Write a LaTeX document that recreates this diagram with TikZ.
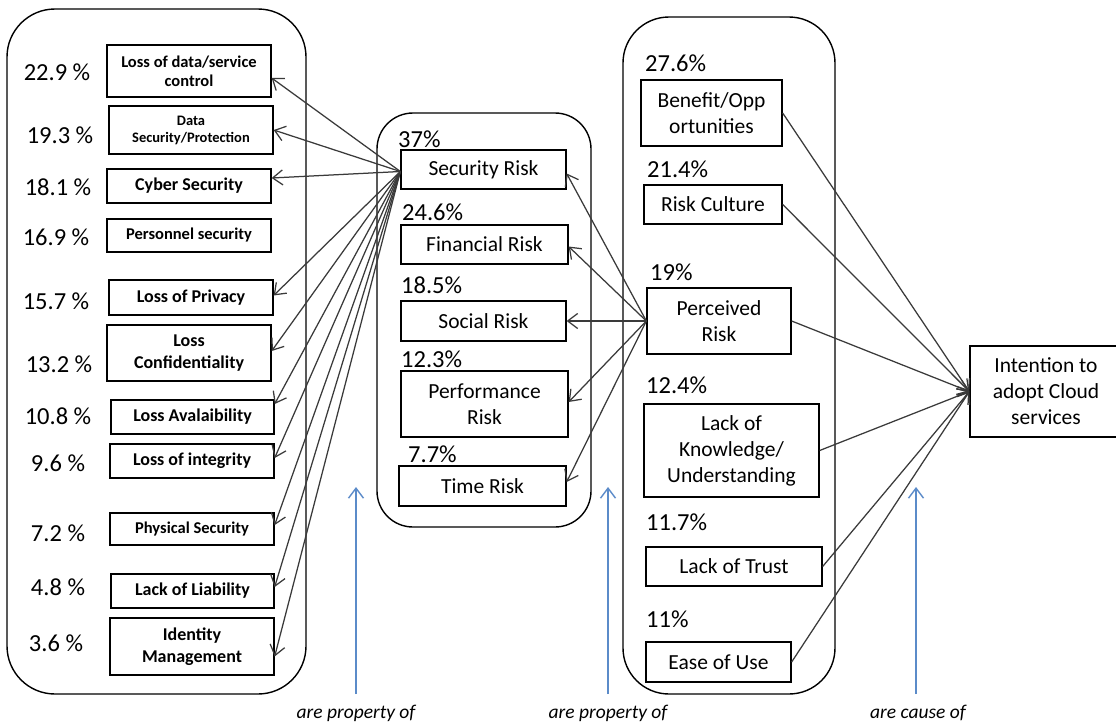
\documentclass[tikz,border=0pt]{standalone}
\usepackage{fontspec}
\setmainfont{Carlito}
\usetikzlibrary{arrows.meta}
\definecolor{conncol}{HTML}{3A3A3A}
\definecolor{bluecol}{HTML}{5B8BC9}
\begin{document}
\begin{tikzpicture}[x=1pt,y=-1pt,
  cont/.style={draw=black,line width=1.4pt,rounded corners=#1},
  lbox/.style={draw=black,line width=1.3pt,inner sep=0pt,align=center,font=\bfseries\fontsize{18}{21.5}\selectfont},
  rbox/.style={draw=black,line width=1.3pt,inner sep=0pt,align=center,font=\fontsize{21.5}{26}\selectfont},
  pct/.style={inner sep=0pt,font=\fontsize{24.5}{28}\selectfont},
  conn/.style={draw=conncol,line width=1.25pt,-{Straight Barb[length=10pt,width=15pt]}},
  bluearr/.style={draw=bluecol,line width=1.4pt,-{Straight Barb[length=10pt,width=15pt]}},
  note/.style={inner sep=0pt,font=\itshape\fontsize{19.5}{22}\selectfont}
]
\useasboundingbox (0,0) rectangle (1116,726);
\fill[white] (0,0) rectangle (1116,726);

% containers
\draw[cont=48pt] (7,9) rectangle (306,694);
\draw[cont=36pt] (377,113) rectangle (591,527);
\draw[cont=46pt] (623,17) rectangle (835,694);

% left column
\node[lbox,minimum width=164pt,minimum height=52pt,font=\bfseries\fontsize{16.5}{19}\selectfont] (d1) at (189,71) {Loss of data/service\\control};
\node[lbox,minimum width=164pt,minimum height=48pt,font=\bfseries\fontsize{14.5}{17}\selectfont] (d2) at (191,130) {Data\\Security/Protection};
\node[lbox,minimum width=164pt,minimum height=34pt] (d3) at (189,186) {Cyber Security};
\node[lbox,minimum width=164pt,minimum height=33pt,font=\bfseries\fontsize{16.5}{19}\selectfont] (d4) at (189,235.5) {Personnel security};
\node[lbox,minimum width=164pt,minimum height=35pt] (d5) at (191,297.5) {Loss of Privacy};
\node[lbox,minimum width=164pt,minimum height=56pt] (d6) at (189,353) {Loss\\Confidentiality};
\node[lbox,minimum width=163pt,minimum height=34pt] (d7) at (192.5,417) {Loss Avalaibility};
\node[lbox,minimum width=164pt,minimum height=34pt] (d8) at (192,461) {Loss of integrity};
\node[lbox,minimum width=164pt,minimum height=32pt,font=\bfseries\fontsize{16.5}{19}\selectfont] (d9) at (192,529) {Physical Security};
\node[lbox,minimum width=163pt,minimum height=34pt] (d10) at (192.5,591) {Lack of Liability};
\node[lbox,minimum width=164pt,minimum height=57pt] (d11) at (192,646.5) {Identity\\Management};

\node[pct] (p1) at (57,72) {22.9 \%};
\node[pct] (p2) at (60,135) {19.3 \%};
\node[pct] (p3) at (58,187) {18.1 \%};
\node[pct] (p4) at (56,237) {16.9 \%};
\node[pct] (p5) at (56,301) {15.7 \%};
\node[pct] (p6) at (59,364) {13.2 \%};
\node[pct] (p7) at (58,416) {10.8 \%};
\node[pct] (p8) at (58,463) {9.6 \%};
\node[pct] (p9) at (58,533) {7.2 \%};
\node[pct] (p10) at (58,587) {4.8 \%};
\node[pct] (p11) at (56,643) {3.6 \%};

% middle column
\node[rbox,minimum width=165pt,minimum height=39pt] (m1) at (483.5,169.5) {Security Risk};
\node[rbox,minimum width=167pt,minimum height=39pt] (m2) at (484.5,244.5) {Financial Risk};
\node[rbox,minimum width=165pt,minimum height=40pt] (m3) at (483.5,321) {Social Risk};
\node[rbox,minimum width=167pt,minimum height=66pt] (m4) at (484.5,404) {Performance\\Risk};
\node[rbox,minimum width=167pt,minimum height=40pt] (m5) at (482.5,486) {Time Risk};

\node[pct,anchor=west] (q1) at (398,139) {37\%};
\node[pct,anchor=west] (q2) at (402,212) {24.6\%};
\node[pct,anchor=west] (q3) at (401,285) {18.5\%};
\node[pct,anchor=west] (q4) at (401,359) {12.3\%};
\node[pct,anchor=west] (q5) at (408,454) {7.7\%};

% right column
\node[rbox,minimum width=141pt,minimum height=66pt] (r1) at (711.5,113) {Benefit/Opp\\ortunities};
\node[rbox,minimum width=138pt,minimum height=39pt] (r2) at (713,204.5) {Risk Culture};
\node[rbox,minimum width=144pt,minimum height=66pt] (r3) at (719,321) {Perceived\\Risk};
\node[rbox,minimum width=175pt,minimum height=93pt] (r4) at (731.5,450.5) {Lack of\\Knowledge/\\Understanding};
\node[rbox,minimum width=176pt,minimum height=39pt] (r5) at (734,566.5) {Lack of Trust};
\node[rbox,minimum width=145pt,minimum height=40pt] (r6) at (718.5,662) {Ease of Use};

\node[pct,anchor=west] (s1) at (645,63) {27.6\%};
\node[pct,anchor=west] (s2) at (647,169) {21.4\%};
\node[pct,anchor=west] (s3) at (650,272) {19\%};
\node[pct,anchor=west] (s4) at (646,385) {12.4\%};
\node[pct,anchor=west] (s5) at (646,522) {11.7\%};
\node[pct,anchor=west] (s6) at (646,619) {11\%};

\node[rbox,minimum width=152pt,minimum height=91pt] (int) at (1046,391.5) {Intention to\\adopt Cloud\\services};

% connectors: Security Risk -> left items
\coordinate (sr) at ([yshift=-2pt]m1.west);
\draw[conn] (sr) -- ([yshift=-7pt]d1.east);
\draw[conn] (sr) -- (d2.east);
\draw[conn] (sr) -- ([yshift=8pt]d3.east);
\draw[conn] (sr) -- ([yshift=2pt]d5.east);
\draw[conn] (sr) -- ([yshift=2pt]d6.east);
\draw[conn] (sr) -- ([yshift=13pt]d7.east);
\draw[conn] (sr) -- ([yshift=3pt]d8.east);
\draw[conn] (sr) -- ([yshift=4pt]d9.east);
\draw[conn] (sr) -- ([yshift=4pt]d10.east);
\draw[conn] (sr) -- ([yshift=-10pt]d11.east);

% Perceived Risk -> middle items
\draw[conn] (r3.west) -- ([yshift=-4pt]m1.east);
\draw[conn] (r3.west) -- ([yshift=-2pt]m2.east);
\draw[conn] (r3.west) -- (m3.east);
\draw[conn] (r3.west) -- ([yshift=2pt]m4.east);
\draw[conn] (r3.west) -- ([yshift=4pt]m5.east);

% right items -> Intention
\foreach \n in {r1,r2,r3,r4,r5,r6}
  \draw[conn] (\n.east) -- (int.west);

% blue arrows and notes
\coordinate (b1) at (356,694); \coordinate (t1) at (356,487);
\coordinate (b2) at (608,694); \coordinate (t2) at (608,487);
\coordinate (b3) at (916,694); \coordinate (t3) at (916,487);
\draw[bluearr] (b1) -- (t1);
\draw[bluearr] (b2) -- (t2);
\draw[bluearr] (b3) -- (t3);
\node[note] (n1) at (356,713) {are property of};
\node[note] (n2) at (608,713) {are property of};
\node[note] (n3) at (918,713) {are cause of};
\end{tikzpicture}
\end{document}
